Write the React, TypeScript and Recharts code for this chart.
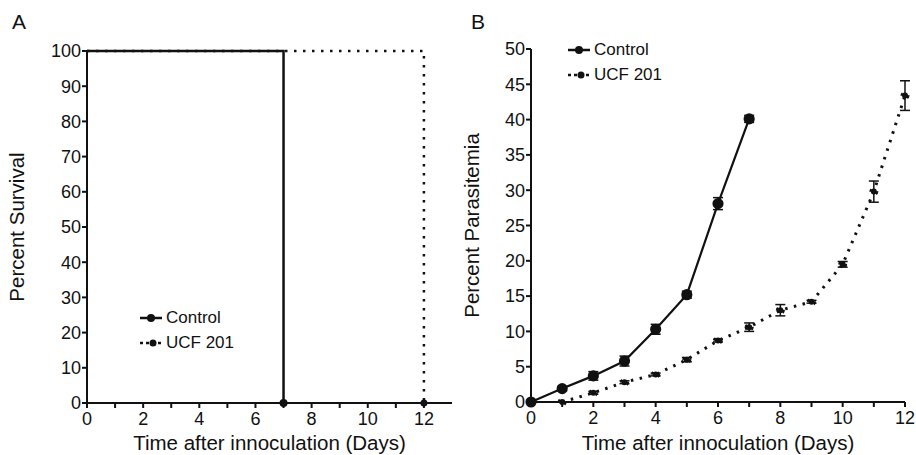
import React from 'react';
import { LineChart, Line, XAxis, YAxis, ErrorBar } from 'recharts';

const FONT = '"Liberation Sans", Arial, Helvetica, sans-serif';
const INK = '#111';

// Panel A - survival (Kaplan-Meier style steps)
const survivalDays = [0, 7, 12];
const controlSurvival = [100, 0, null];
const ucfSurvival = [100, 100, 0];

// Panel B - parasitemia
const days = [0, 1, 2, 3, 4, 5, 6, 7, 8, 9, 10, 11, 12];
const controlPara = [0, 1.9, 3.7, 5.8, 10.3, 15.2, 28.1, 40.1, null, null, null, null, null];
const controlErr = [0, 0.3, 0.6, 0.7, 0.7, 0.5, 0.85, 0.5, null, null, null, null, null];
const ucfPara = [null, 0, 1.3, 2.8, 3.9, 6.0, 8.7, 10.6, 13.0, 14.2, 19.5, 29.8, 43.4];
const ucfErr = [null, 0, 0.2, 0.2, 0.2, 0.3, 0.2, 0.6, 0.8, 0.2, 0.4, 1.5, 2.1];

const survivalTicksY = [0, 10, 20, 30, 40, 50, 60, 70, 80, 90, 100];
const paraTicksY = [0, 5, 10, 15, 20, 25, 30, 35, 40, 45, 50];
const dayTicks = [0, 1, 2, 3, 4, 5, 6, 7, 8, 9, 10, 11, 12];

const survivalData = survivalDays.map((d, i) => ({
  day: d,
  control: controlSurvival[i],
  ucf: ucfSurvival[i],
}));

const paraData = days.map((d, i) => ({
  day: d,
  control: controlPara[i],
  controlErr: controlErr[i],
  ucf: ucfPara[i],
  ucfErr: ucfErr[i],
}));

const evenOnly = (v: number) => (v % 2 === 0 ? String(v) : '');

const tickStyle = { fontSize: 18, fill: INK, fontFamily: FONT };
const axisStroke = { stroke: INK, strokeWidth: 2 };
const labelStyle = { fontSize: 20.5, fill: INK, fontFamily: FONT };

// legend drawn as a small overlay, same look in both panels
const LegendBox = ({ left, top }: { left: number; top: number }) => (
  <div style={{ position: 'absolute', left, top, fontFamily: FONT, fontSize: 17, color: INK, lineHeight: '25px' }}>
    <div style={{ display: 'flex', alignItems: 'center' }}>
      <svg width={25} height={12}>
        <line x1={1} y1={6} x2={23} y2={6} stroke={INK} strokeWidth={2.5} />
        <circle cx={12} cy={6} r={4} fill={INK} />
      </svg>
      <span style={{ marginLeft: 2 }}>Control</span>
    </div>
    <div style={{ display: 'flex', alignItems: 'center' }}>
      <svg width={25} height={12}>
        <line x1={1} y1={6} x2={23} y2={6} stroke={INK} strokeWidth={2.5} strokeDasharray="3 3" />
        <circle cx={14} cy={6} r={3.5} fill={INK} />
      </svg>
      <span style={{ marginLeft: 2 }}>UCF 201</span>
    </div>
  </div>
);

const endDot = (key: 'control' | 'ucf', r: number) => (props: any) => {
  const { cx, cy, payload, index } = props;
  if (payload[key] === 0) {
    return <circle key={`${key}-${index}`} cx={cx} cy={cy} r={r} fill={INK} />;
  }
  return <g key={`${key}-${index}`} />;
};

const SurvivalChart = () => (
  <LineChart width={460} height={455} data={survivalData} margin={{ top: 51, right: 8, bottom: 22, left: 27 }}>
    <XAxis
      dataKey="day"
      type="number"
      domain={[0, 13]}
      ticks={dayTicks}
      tickFormatter={evenOnly}
      interval={0}
      axisLine={axisStroke}
      tickLine={axisStroke}
      tickSize={5}
      tickMargin={4}
      tick={tickStyle}
      height={30}
      label={{ value: 'Time after innoculation (Days)', position: 'insideBottom', offset: -17, ...labelStyle }}
    />
    <YAxis
      type="number"
      domain={[0, 100]}
      ticks={survivalTicksY}
      interval={0}
      axisLine={axisStroke}
      tickLine={axisStroke}
      tickSize={5}
      tickMargin={1}
      tick={tickStyle}
      width={60}
      label={{ value: 'Percent Survival', angle: -90, position: 'insideLeft', offset: -10, ...labelStyle, style: { textAnchor: 'middle' } }}
    />
    <Line
      dataKey="ucf"
      type="stepAfter"
      stroke={INK}
      strokeWidth={2.5}
      strokeDasharray="2.5 6.5"
      dot={endDot('ucf', 3.5)}
      isAnimationActive={false}
    />
    <Line
      dataKey="control"
      type="stepAfter"
      stroke={INK}
      strokeWidth={2.5}
      dot={endDot('control', 4)}
      isAnimationActive={false}
    />
  </LineChart>
);

const ParasitemiaChart = () => (
  <LineChart width={476} height={455} data={paraData} margin={{ top: 49, right: 11, bottom: 23, left: 31 }}>
    <XAxis
      dataKey="day"
      type="number"
      domain={[0, 12]}
      ticks={dayTicks}
      tickFormatter={evenOnly}
      interval={0}
      axisLine={axisStroke}
      tickLine={axisStroke}
      tickSize={5}
      tickMargin={4}
      tick={tickStyle}
      height={30}
      label={{ value: 'Time after innoculation (Days)', position: 'insideBottom', offset: -18, ...labelStyle }}
    />
    <YAxis
      type="number"
      domain={[0, 50]}
      ticks={paraTicksY}
      interval={0}
      axisLine={axisStroke}
      tickLine={axisStroke}
      tickSize={5}
      tickMargin={1}
      tick={tickStyle}
      width={60}
      label={{ value: 'Percent Parasitemia', angle: -90, position: 'insideLeft', offset: 1, ...labelStyle, style: { textAnchor: 'middle' } }}
    />
    <Line
      dataKey="ucf"
      type="linear"
      stroke={INK}
      strokeWidth={3}
      strokeDasharray="2.5 6.5"
      dot={{ r: 3, fill: INK, stroke: INK }}
      isAnimationActive={false}
    >
      <ErrorBar dataKey="ucfErr" width={5} stroke={INK} strokeWidth={1.5} direction="y" />
    </Line>
    <Line
      dataKey="control"
      type="linear"
      stroke={INK}
      strokeWidth={2.2}
      dot={{ r: 4.5, fill: INK, stroke: INK }}
      isAnimationActive={false}
    >
      <ErrorBar dataKey="controlErr" width={5} stroke={INK} strokeWidth={1.5} direction="y" />
    </Line>
  </LineChart>
);

export default function App() {
  return (
    <div style={{ position: 'absolute', left: 0, top: 0, width: 916, height: 455, background: '#fff', fontFamily: FONT }}>
      <div style={{ position: 'absolute', left: 12, top: 10, fontSize: 21, color: INK }}>A</div>
      <div style={{ position: 'absolute', left: 471, top: 10, fontSize: 21, color: INK }}>B</div>
      <div style={{ position: 'absolute', left: 0, top: 0 }}>
        <SurvivalChart />
      </div>
      <div style={{ position: 'absolute', left: 440, top: 0 }}>
        <ParasitemiaChart />
      </div>
      <LegendBox left={139} top={305} />
      <LegendBox left={567} top={37} />
    </div>
  );
}
